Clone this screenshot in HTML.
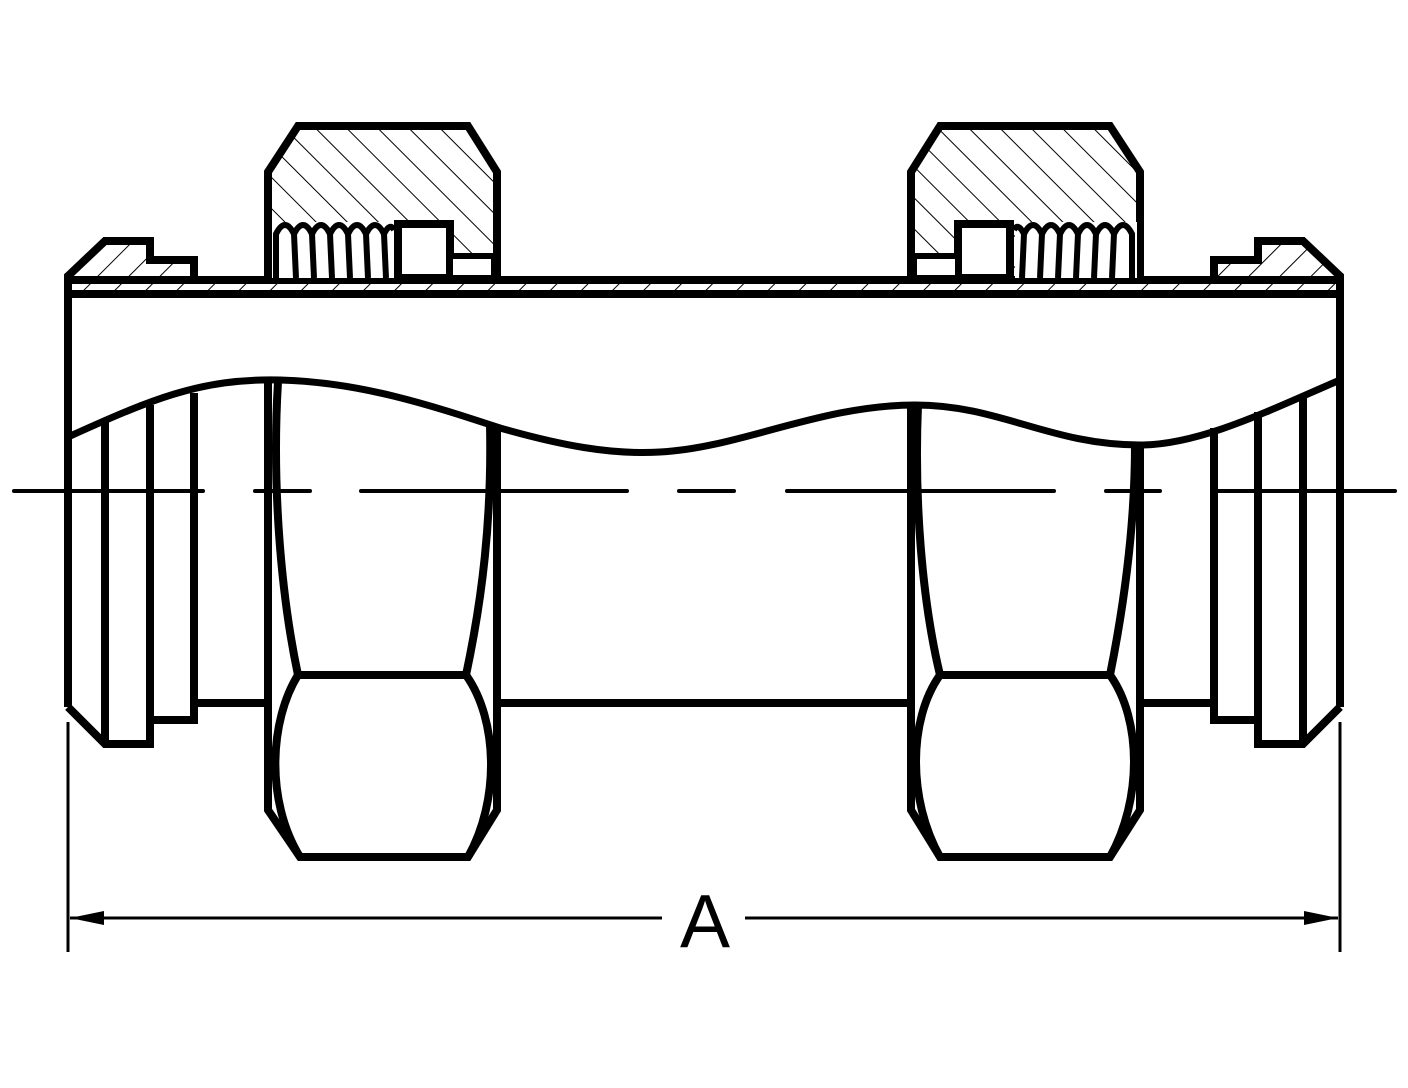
<!DOCTYPE html>
<html><head><meta charset="utf-8"><style>html,body{margin:0;padding:0;background:#fff}svg{display:block}</style></head><body>
<svg width="1408" height="1088" viewBox="0 0 1408 1088" xmlns="http://www.w3.org/2000/svg">
<defs>
<pattern id="hf" width="22" height="22" patternUnits="userSpaceOnUse" patternTransform="rotate(45)"><line x1="0" y1="0" x2="0" y2="22" stroke="#000" stroke-width="2"/></pattern>
<pattern id="hb" width="22" height="22" patternUnits="userSpaceOnUse" patternTransform="rotate(-45)"><line x1="0" y1="0" x2="0" y2="22" stroke="#000" stroke-width="2"/></pattern>
</defs>
<g fill="none" stroke="#000" stroke-width="8" stroke-linejoin="miter">
<rect x="68" y="280" width="1272" height="14" fill="url(#hf)" stroke="none"/>
<path d="M68,276 L105,241 L150,241 L150,260 L194,260 L194,280 L68,280 Z" fill="url(#hf)"/>
<path d="M1340,276 L1303,241 L1258,241 L1258,260 L1214,260 L1214,280 L1340,280 Z" fill="url(#hf)"/>
<line x1="68" y1="280" x2="1340" y2="280"/>
<line x1="68" y1="294" x2="1340" y2="294"/>
<path d="M268,280 L268,172 L298,126 L468,126 L497,172 L497,280" fill="url(#hb)"/>
<path d="M911,280 L911,172 L940,126 L1110,126 L1140,172 L1140,280" fill="url(#hb)"/>
<rect x="272" y="222" width="122" height="56" fill="#fff" stroke="none"/>
<rect x="398" y="224" width="52" height="54" fill="#fff"/>
<rect x="450" y="256" width="44" height="22" fill="#fff" stroke-width="6"/>
<rect x="1015" y="222" width="122" height="56" fill="#fff" stroke="none"/>
<rect x="958" y="224" width="52" height="54" fill="#fff"/>
<rect x="914" y="256" width="44" height="22" fill="#fff" stroke-width="6"/>
<g stroke-width="6">
<path d="M276,278 L276,234 Q285,216 294,234 L296,278 M294,234 Q303,216 312,234 L314,278 M312,234 Q321,216 330,234 L332,278 M330,234 Q339,216 348,234 L350,278 M348,234 Q357,216 366,234 L368,278 M366,234 Q375,216 384,234 L386,278 M384,234 Q390,222 394,230"/>
<path d="M1132,278 L1132,234 Q1123,216 1114,234 L1112,278 M1114,234 Q1105,216 1096,234 L1094,278 M1096,234 Q1087,216 1078,234 L1076,278 M1078,234 Q1069,216 1060,234 L1058,278 M1060,234 Q1051,216 1042,234 L1040,278 M1042,234 Q1033,216 1024,234 L1022,278 M1024,234 Q1018,222 1014,230"/>
</g>
<line x1="68" y1="276" x2="68" y2="707"/>
<path d="M68,707 L105,744 L150,744 L150,720 L194,720 L194,703 L268,703"/>
<line x1="1340" y1="276" x2="1340" y2="707"/>
<path d="M1340,707 L1303,744 L1258,744 L1258,720 L1214,720 L1214,703 L1140,703"/>
<line x1="497" y1="703" x2="911" y2="703"/>
<path d="M68,437 C150,400 200,378 280,380 C360,382 430,405 500,428 C560,445 610,455 660,452 C740,448 820,405 915,405 C1000,405 1050,445 1140,445 C1200,445 1270,410 1340,380" stroke-width="7"/>
<line x1="105" y1="420" x2="105" y2="744"/>
<line x1="150" y1="405" x2="150" y2="744"/>
<line x1="194" y1="393" x2="194" y2="720"/>
<line x1="1303" y1="395" x2="1303" y2="744"/>
<line x1="1258" y1="412" x2="1258" y2="744"/>
<line x1="1214" y1="428" x2="1214" y2="720"/>
<path d="M268,382 L268,810 L300,857 L468,857 L497,810 L497,425"/>
<path d="M278,382 C272,480 280,590 298,675 L466,675 C482,600 492,520 490,425"/>
<path d="M298,675 C270,720 265,800 300,857 M466,675 C498,720 500,800 468,857"/>
<path d="M911,405 L911,810 L940,857 L1110,857 L1140,810 L1140,445"/>
<path d="M918,405 C914,500 922,600 940,675 L1110,675 C1125,600 1135,520 1135,445"/>
<path d="M940,675 C908,720 908,800 940,857 M1110,675 C1142,720 1142,800 1110,857"/>
</g>
<g stroke="#000" stroke-width="4" stroke-linecap="round">
<line x1="14" y1="491" x2="203" y2="491"/><line x1="255" y1="491" x2="310" y2="491"/>
<line x1="361" y1="491" x2="627" y2="491"/><line x1="679" y1="491" x2="734" y2="491"/>
<line x1="787" y1="491" x2="1054" y2="491"/><line x1="1106" y1="491" x2="1160" y2="491"/>
<line x1="1212" y1="491" x2="1395" y2="491"/>
</g>
<g stroke="#000" stroke-width="3">
<line x1="68" y1="722" x2="68" y2="952"/><line x1="1340" y1="722" x2="1340" y2="952"/>
<line x1="70" y1="918" x2="662" y2="918"/><line x1="745" y1="918" x2="1338" y2="918"/>
</g>
<path d="M70,918 L104,911 L104,925 Z M1338,918 L1304,911 L1304,925 Z" fill="#000"/>
<text x="705" y="947" font-family="Liberation Sans, sans-serif" font-size="75" text-anchor="middle">A</text>
</svg>
</body></html>
